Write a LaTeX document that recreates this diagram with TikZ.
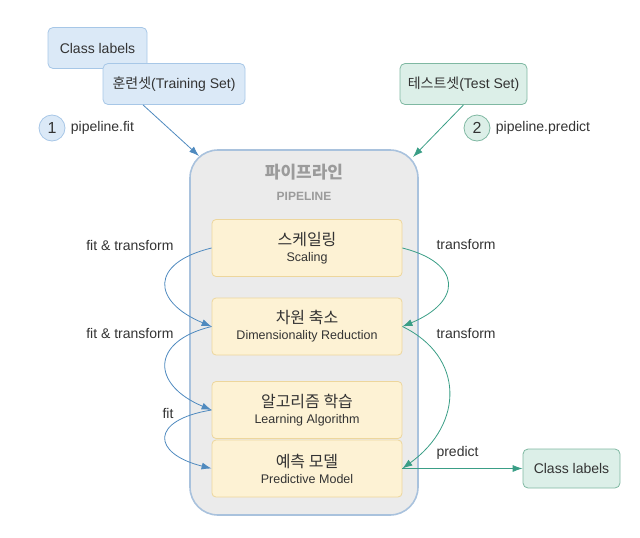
\documentclass[tikz,border=0pt]{standalone}
\usepackage{fontspec}
\setmainfont{Liberation Sans}
\newfontfamily\kr{Noto Sans CJK KR}
\usepackage{tikz}
\usetikzlibrary{positioning, arrows.meta}

\definecolor{inkgray}{HTML}{333333}
\definecolor{titlegray}{HTML}{9B9B9B}
\definecolor{pipefill}{HTML}{EBEBEB}
\definecolor{pipeline}{HTML}{A9C2DD}
\definecolor{stagefill}{HTML}{FDF2D4}
\definecolor{stageline}{HTML}{EDD69C}
\definecolor{trainfill}{HTML}{DBE9F7}
\definecolor{trainline}{HTML}{A7C7E7}
\definecolor{testfill}{HTML}{DCEFE8}
\definecolor{testline}{HTML}{7FB8A2}
\definecolor{fitblue}{HTML}{4F8ABF}
\definecolor{predgreen}{HTML}{3A9E86}

\begin{document}
\begin{tikzpicture}[x=1pt,y=-1pt,font=\fontsize{14}{17}\selectfont,text=inkgray]
  \tikzstyle{stage}=[draw=stageline, fill=stagefill, line width=0.8pt, rounded corners=4pt,
                     minimum width=190pt, minimum height=57pt, align=center]
  \tikzstyle{trainbox}=[draw=trainline, fill=trainfill, line width=0.8pt, rounded corners=5pt, minimum height=41pt]
  \tikzstyle{testbox}=[draw=testline, fill=testfill, line width=0.8pt, rounded corners=5pt, minimum height=41pt]
  \tikzstyle{numdot}=[circle, line width=0.8pt, minimum size=26pt, inner sep=0pt, font=\fontsize{16}{16}\selectfont]
  \tikzstyle{fitarrow}=[draw=fitblue, line width=0.8pt, -{Latex[length=10pt,width=7pt]}]
  \tikzstyle{predarrow}=[draw=predgreen, line width=0.8pt, -{Latex[length=10pt,width=7pt]}]

  \useasboundingbox (0,0) rectangle (640,538);

  % pipeline container
  \node[draw=pipeline, fill=pipefill, line width=1.6pt, rounded corners=28pt,
        minimum width=228pt, minimum height=365pt] (pipe) at (304,332.5) {};
  \node[text=titlegray, font=\kr\fontsize{17}{20}\selectfont\bfseries] (ttl) at (304,172) {파이프라인};
  \node[text=titlegray, font=\fontsize{12}{14}\selectfont\bfseries] (ttlen) at (304,196) {PIPELINE};

  % stages
  \node[stage] (scal)  at (307,248)   {{\kr\fontsize{16}{19}\selectfont 스케일링}\\[-1pt]{\fontsize{12.5}{14}\selectfont Scaling}};
  \node[stage] (dim)   at (307,326.5) {{\kr\fontsize{16}{19}\selectfont 차원 축소}\\[-1pt]{\fontsize{12.5}{14}\selectfont Dimensionality Reduction}};
  \node[stage] (learn) at (307,410)   {{\kr\fontsize{16}{19}\selectfont 알고리즘 학습}\\[-1pt]{\fontsize{12.5}{14}\selectfont Learning Algorithm}};
  \node[stage] (pred)  at (307,468.5) {{\kr\fontsize{16}{19}\selectfont 예측 모델}\\[-1pt]{\fontsize{12.5}{14}\selectfont Predictive Model}};

  % inputs
  \node[trainbox, minimum width=99pt]  (cls1)  at (97.5,48)  {Class labels};
  \node[trainbox, minimum width=142pt] (train) at (174,84)   {{\kr 훈련셋}(Training Set)};
  \node[testbox, minimum width=127pt]  (test)  at (463.5,84) {{\kr 테스트셋}(Test Set)};
  \node[testbox, minimum width=97pt, minimum height=39pt] (cls2) at (571.5,468.5) {Class labels};

  \node[numdot, draw=trainline, fill=trainfill] (one) at (52,128)  {1};
  \node[anchor=west] (fitlbl) [right=2pt of one] {pipeline.fit};
  \node[numdot, draw=testline, fill=testfill]   (two) at (477,128) {2};
  \node[anchor=west] (predlbl) [right=2pt of two] {pipeline.predict};

  \coordinate (fitin)  at (199,156);
  \coordinate (predin) at (413,157);
  \draw[fitarrow]  (train.214) -- (fitin);
  \draw[predarrow] (test.south) -- (predin);

  % fit side
  \node[anchor=east] (ft1) at (177,245) {fit \& transform};
  \node[anchor=east] (ft2) at (177,333) {fit \& transform};
  \node[anchor=east] (ft3) at (177,413) {fit};
  \draw[fitarrow] (scal.west)  .. controls +(-62,15) and +(-60,-25) .. (dim.west);
  \draw[fitarrow] (dim.west)   .. controls +(-62,15) and +(-60,-25) .. (learn.west);
  \draw[fitarrow] (learn.west) .. controls +(-62,10) and +(-60,-15) .. (pred.west);

  % predict side
  \node[anchor=west] (tr1) at (433,245) {transform};
  \node[anchor=west] (tr2) at (433,333) {transform};
  \node[anchor=west] (pr)  at (433,453) {predict};
  \draw[predarrow] (scal.east) .. controls +(60,15) and +(60,-25) .. (dim.east);
  \draw[predarrow] (dim.east)  .. controls +(62,30) and +(62,-45) .. (pred.east);
  \draw[predarrow] (pred.east) -- (cls2);
\end{tikzpicture}
\end{document}
